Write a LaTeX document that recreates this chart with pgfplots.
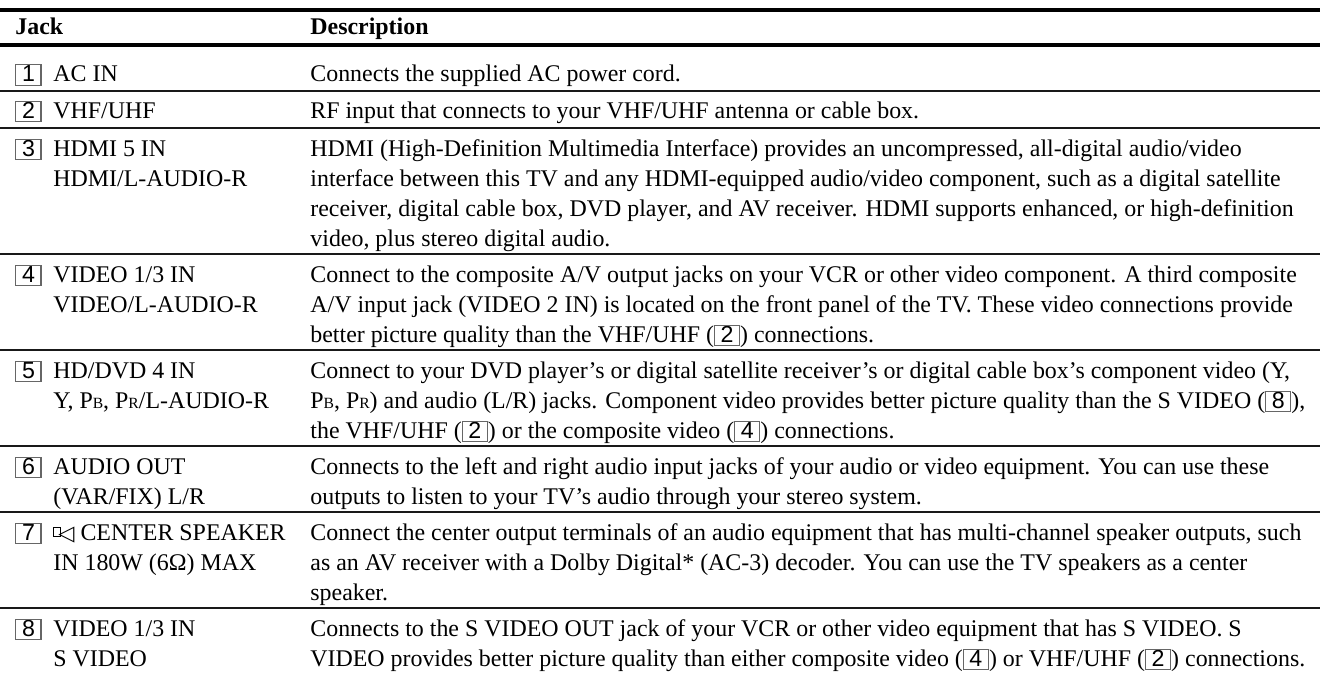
\documentclass[border=0pt]{standalone}
\usepackage{fontspec}
\setmainfont{Liberation Serif}
\setsansfont{Liberation Sans}
\newfontfamily\dejavu{DejaVu Sans}
\usepackage{xcolor}
\usepackage{pgfplots}
\pgfplotsset{compat=1.18}
\newcommand{\jb}[1]{\raisebox{-1.5pt}{\setlength{\fboxsep}{0pt}\setlength{\fboxrule}{0.55pt}\fcolorbox{black!60}{white}{\makebox[12pt]{\rule{0pt}{9.6pt}\raisebox{1.45pt}{\sffamily\fontsize{11.6}{12}\selectfont #1}}}}}
\newcommand{\sub}[1]{{\fontsize{7.8}{8}\selectfont #1}}
\newcommand{\spk}{{\setlength{\fboxsep}{0pt}\setlength{\fboxrule}{0.5pt}\raisebox{2.1pt}{\fbox{\rule{0pt}{4pt}\hspace{2.6pt}}}}\kern-1.1pt{\dejavu\fontsize{10.5}{10}\selectfont ◁}}
\newcommand{\Ln}[3]{\node[anchor=base west, inner sep=0pt, font=\fontsize{11.95}{14}\selectfont] at (axis cs:#1,#2) {#3};}
\newcommand{\Bx}[3]{\Ln{15}{#1}{\jb{#2}}\Ln{53}{#1}{#3}}
\newcommand{\Rule}[2]{\addplot[black!90, line width=#2] coordinates {(0,#1) (1320,#1)};}
\begin{document}
\begin{tikzpicture}
\begin{axis}[width=660pt, height=338pt, scale only axis, xmin=0, xmax=1320, ymin=0, ymax=676, y dir=reverse, hide axis, clip=false]
% rules
\addplot[black, line width=1.6pt] coordinates {(0,10) (1320,10)};
\addplot[black, line width=1.7pt] coordinates {(0,45) (1320,45)};
\Rule{91}{0.65pt}
\Rule{128}{0.65pt}
\Rule{254}{0.65pt}
\Rule{350}{0.65pt}
\Rule{446}{0.9pt}
\Rule{512}{0.65pt}
\Rule{608}{0.65pt}
% header
\Ln{15}{34}{\textbf{Jack}}
\Ln{310}{34}{\textbf{Description}}
% jack column
\Bx{81.5}{1}{AC IN}
\Bx{118}{2}{VHF/UHF}
\Bx{156}{3}{HDMI 5 IN}
\Ln{53}{186}{HDMI/L-AUDIO-R}
\Bx{282}{4}{VIDEO 1/3 IN}
\Ln{53}{312}{VIDEO/L-AUDIO-R}
\Bx{378}{5}{HD/DVD 4 IN}
\Ln{53}{408}{Y, P\sub{B}, P\sub{R}/L-AUDIO-R}
\Bx{474}{6}{AUDIO OUT}
\Ln{53}{504}{(VAR/FIX) L/R}
\Bx{540}{7}{\spk\ CENTER SPEAKER}
\Ln{53}{570}{IN 180W (6Ω) MAX}
\Bx{636}{8}{VIDEO 1/3 IN}
\Ln{53}{666}{S VIDEO}
% description column
\Ln{310}{81.5}{Connects the supplied AC power cord.}
\Ln{310}{118}{RF input that connects to your VHF/UHF antenna or cable box.}
\Ln{310}{156}{HDMI (High-Definition Multimedia Interface) provides an uncompressed, all-digital audio/video}
\Ln{310}{186}{interface between this TV and any HDMI-equipped audio/video component, such as a digital satellite}
\Ln{310}{216}{receiver, digital cable box, DVD player, and AV receiver. HDMI supports enhanced, or high-definition}
\Ln{310}{246}{video, plus stereo digital audio.}
\Ln{310}{282}{Connect to the composite A/V output jacks on your VCR or other video component. A third composite}
\Ln{310}{312}{A/V input jack (VIDEO 2 IN) is located on the front panel of the TV. These video connections provide}
\Ln{310}{342}{better picture quality than the VHF/UHF (\jb{2}) connections.}
\Ln{310}{378}{Connect to your DVD player's or digital satellite receiver's or digital cable box's component video (Y,}
\Ln{310}{408}{P\sub{B}, P\sub{R}) and audio (L/R) jacks. Component video provides better picture quality than the S VIDEO (\jb{8}),}
\Ln{310}{438}{the VHF/UHF (\jb{2}) or the composite video (\jb{4}) connections.}
\Ln{310}{474}{Connects to the left and right audio input jacks of your audio or video equipment. You can use these}
\Ln{310}{504}{outputs to listen to your TV's audio through your stereo system.}
\Ln{310}{540}{Connect the center output terminals of an audio equipment that has multi-channel speaker outputs, such}
\Ln{310}{570}{as an AV receiver with a Dolby Digital* (AC-3) decoder. You can use the TV speakers as a center}
\Ln{310}{600}{speaker.}
\Ln{310}{636}{Connects to the S VIDEO OUT jack of your VCR or other video equipment that has S VIDEO. S}
\Ln{310}{666}{VIDEO provides better picture quality than either composite video (\jb{4}) or VHF/UHF (\jb{2}) connections.}
\end{axis}
\pgfresetboundingbox
\path (current axis.south west) rectangle (current axis.north east);
\end{tikzpicture}
\end{document}
